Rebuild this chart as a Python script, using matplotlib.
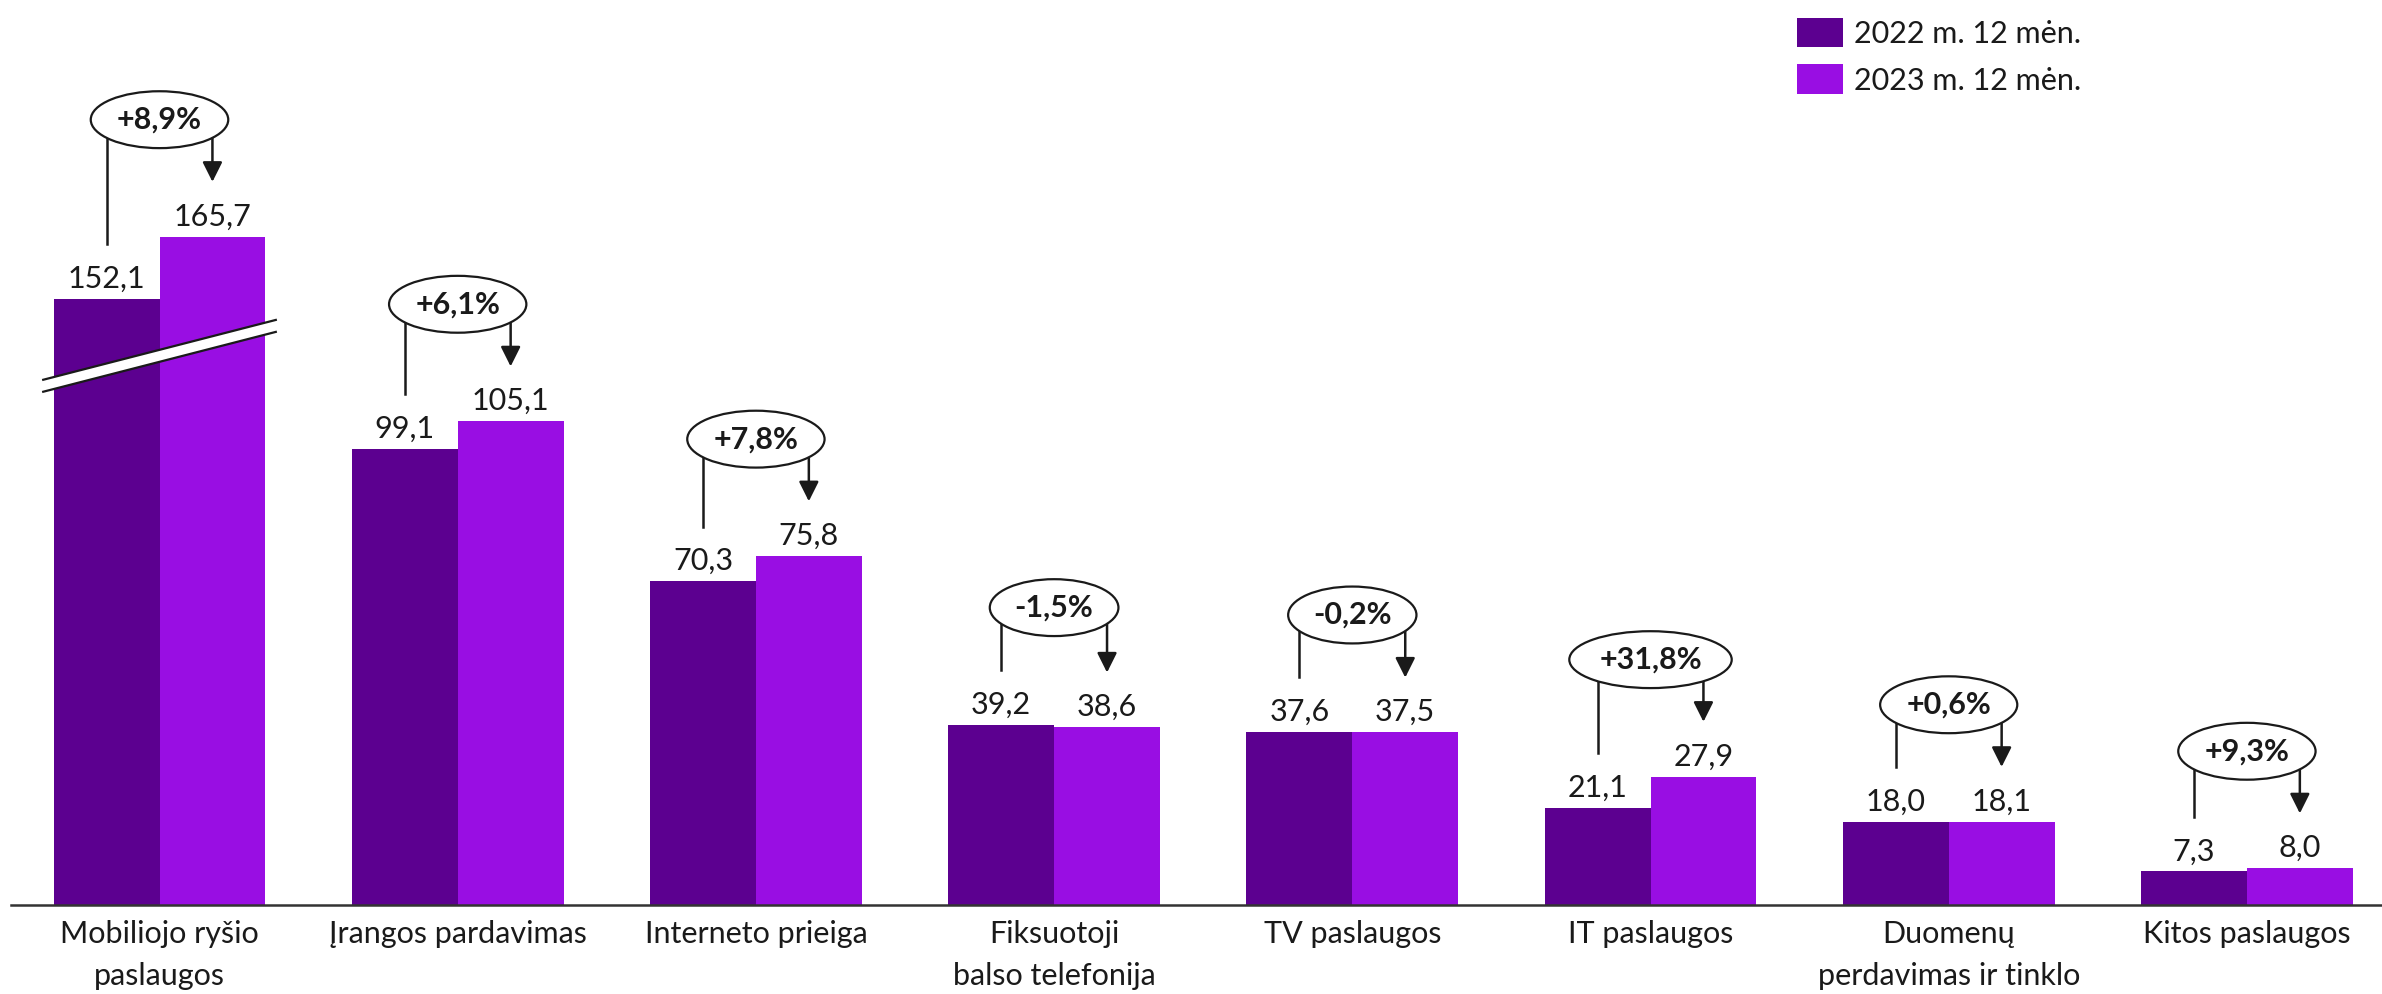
import numpy as np
import matplotlib
matplotlib.use("Agg")
import matplotlib.pyplot as plt
from matplotlib.patches import Polygon

plt.rcParams['font.family'] = ['Lato', 'DejaVu Sans']

categories = ["Mobiliojo ryšio\npaslaugos", "Įrangos pardavimas", "Interneto prieiga",
              "Fiksuotoji\nbalso telefonija", "TV paslaugos", "IT paslaugos",
              "Duomenų\nperdavimas ir tinklo", "Kitos paslaugos"]
vals_2022 = [152.1, 99.1, 70.3, 39.2, 37.6, 21.1, 18.0, 7.3]
vals_2023 = [165.7, 105.1, 75.8, 38.6, 37.5, 27.9, 18.1, 8.0]
changes = ["+8,9%", "+6,1%", "+7,8%", "-1,5%", "-0,2%", "+31,8%", "+0,6%", "+9,3%"]
series_names = ["2022 m. 12 mėn.", "2023 m. 12 mėn."]

# first group is drawn with a cut (axis break)
broken = [True, False, False, False, False, False, False, False]
cut = 20.5
break_level = 118

c_dark = "#5C0090"
c_light = "#990EE3"
txt = "#1a1a1a"
fs = 22

fig = plt.figure(figsize=(23.82, 9.94), dpi=100)
ax = fig.add_axes([11/2382, 89/994, 1 - 11/2382, 1 - 89/994])

x = np.arange(len(categories))
w = 0.355

h22 = [v - cut if b else v for v, b in zip(vals_2022, broken)]
h23 = [v - cut if b else v for v, b in zip(vals_2023, broken)]

b1 = ax.bar(x - w/2, h22, w, color=c_dark, zorder=2, label=series_names[0])
b2 = ax.bar(x + w/2, h23, w, color=c_light, zorder=2, label=series_names[1])

for i in range(len(x)):
    ax.annotate(f"{vals_2022[i]:.1f}".replace(".", ","), (x[i] - w/2, h22[i]),
                xytext=(0, 8), textcoords="offset points", ha="center", va="baseline",
                fontsize=fs, color=txt)
    ax.annotate(f"{vals_2023[i]:.1f}".replace(".", ","), (x[i] + w/2, h23[i]),
                xytext=(0, 8), textcoords="offset points", ha="center", va="baseline",
                fontsize=fs, color=txt)

    top = max(h22[i], h23[i])
    ey = top + 25.4
    ax.plot([x[i] - w/2, x[i] - w/2], [h22[i] + 11.9, ey], color=txt, lw=1.8, zorder=3)
    ax.annotate("", xy=(x[i] + w/2, h23[i] + 11.9), xytext=(x[i] + w/2, ey),
                arrowprops=dict(arrowstyle="-|>,head_length=0.6,head_width=0.3",
                                color=txt, lw=1.8, mutation_scale=20,
                                shrinkA=0, shrinkB=0), zorder=3)
    ax.text(x[i], ey, changes[i], ha="center", va="center", fontsize=fs,
            fontweight="bold", color=txt, zorder=5,
            bbox=dict(boxstyle="ellipse,pad=0.2", fc="white", ec=txt, lw=1.6))

# break marks
for i in range(len(x)):
    if broken[i]:
        x0, x1 = x[i] - 0.39, x[i] + 0.39
        y0, y1 = break_level - 6.5, break_level + 6.5
        th = 2.6
        poly = Polygon([[x0, y0], [x1, y1], [x1, y1 + th], [x0, y0 + th]],
                       closed=True, fc="white", ec="none", zorder=4)
        ax.add_patch(poly)
        ax.plot([x0, x1], [y0, y1], color=txt, lw=1.6, zorder=4)
        ax.plot([x0, x1], [y0 + th, y1 + th], color=txt, lw=1.6, zorder=4)

ax.set_xlim(-0.498, 7.453)
ax.set_ylim(0, 196.6)
ax.set_xticks(x)
ax.set_xticklabels(categories, fontsize=fs, color=txt, linespacing=1.6)
ax.tick_params(axis="x", length=0, pad=11)
ax.set_yticks([])
for s in ["top", "right", "left"]:
    ax.spines[s].set_visible(False)
ax.spines["bottom"].set_color("#333333")
ax.spines["bottom"].set_linewidth(1.8)

fig.legend(handles=[b1, b2], labels=series_names, loc="upper left",
           bbox_to_anchor=(1770/2382, 1 + 10/994), frameon=False, fontsize=fs,
           handlelength=1.5, handleheight=1.11, handletextpad=0.35,
           labelspacing=0.55, labelcolor=txt)

fig.savefig("out.png", dpi=100)
